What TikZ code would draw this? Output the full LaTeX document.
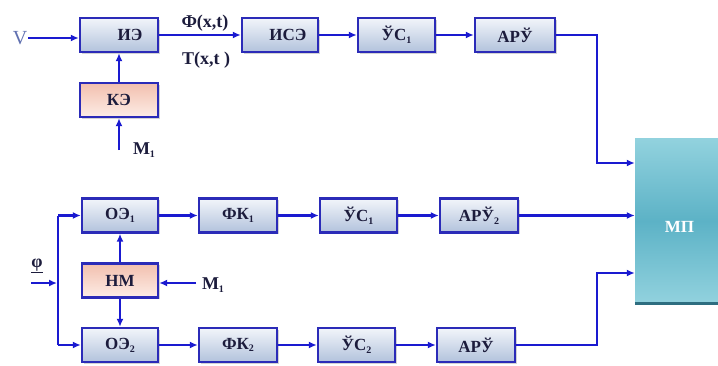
\documentclass[tikz,border=0pt]{standalone}
\usepackage{fontspec}
\setmainfont{Liberation Serif}
\usetikzlibrary{arrows.meta,shadows,positioning}
\definecolor{linecol}{HTML}{1A1AD0}
\definecolor{boxdraw}{HTML}{2B2BB8}
\definecolor{boxtop}{HTML}{F2F5FA}
\definecolor{boxbot}{HTML}{B2C2DC}
\definecolor{pinktop}{HTML}{F2BFAE}
\definecolor{pinkbot}{HTML}{FDEDE6}
\definecolor{mpa}{HTML}{92D2DE}
\definecolor{mpb}{HTML}{5CB2C6}
\definecolor{mpedge}{HTML}{2E6E80}
\definecolor{txt}{HTML}{1C1C3C}
\definecolor{vcol}{HTML}{6070B0}
\newcommand\ssub[1]{\raisebox{-0.35ex}{\fontsize{10}{10}\selectfont #1}}
\tikzset{
  blk/.style={draw=boxdraw, line width=2.4pt, top color=boxtop, bottom color=boxbot,
    minimum height=34pt, inner sep=1pt, font=\fontsize{17}{17}\selectfont\bfseries, text=txt,
    drop shadow={shadow xshift=1.5pt, shadow yshift=-1.5pt, opacity=0.35}},
  pinkblk/.style={blk, top color=pinktop, bottom color=pinkbot},
  arr/.style={draw=linecol, line width=2.4pt, -{Latex[length=8pt,width=7pt]}},
  ln/.style={draw=linecol, line width=2.4pt},
  lbl/.style={font=\fontsize{18}{18}\selectfont\bfseries, text=txt, inner sep=1pt}
}
\begin{document}
\begin{tikzpicture}[x=1pt,y=-1pt]
\useasboundingbox (0,0) rectangle (718,365);
% top row
\node[blk, minimum width=78pt] (ie) at (119,35) {\hspace*{22pt}ИЭ};
\node[blk, minimum width=76pt] (ise) at (280,35) {\hspace*{16pt}ИСЭ};
\node[blk, minimum width=77pt] (us1) at (396.5,35) {ЎС\ssub{1}};
\node[blk, minimum width=80pt] (aru) at (515,35) {АРЎ};
\node[pinkblk, minimum width=78pt] (ke) at (119,100) {КЭ};
% bottom rows
\node[blk, minimum width=76pt] (oe1) at (120,215.5) {ОЭ\ssub{1}};
\node[blk, minimum width=78pt] (fk1) at (238,215.5) {ФК\ssub{1}};
\node[blk, minimum width=77pt] (us1b) at (358.5,215.5) {ЎС\ssub{1}};
\node[blk, minimum width=78pt] (aru2) at (479,215.5) {АРЎ\ssub{2}};
\node[pinkblk, minimum width=76pt] (nm) at (120,280.5) {НМ};
\node[blk, minimum width=76pt] (oe2) at (120,345) {ОЭ\ssub{2}};
\node[blk, minimum width=78pt] (fk2) at (238,345) {ФК\ssub{2}};
\node[blk, minimum width=77pt] (us2) at (356.5,345) {ЎС\ssub{2}};
\node[blk, minimum width=78pt] (aru3) at (476,345) {АРЎ};
% MP block
\node[minimum width=83pt, minimum height=165pt, inner sep=0pt,
  top color=mpa, bottom color=mpa, middle color=mpb,
  label={[yshift=-6pt, xshift=3pt, text=white, font=\fontsize{17}{17}\selectfont\bfseries]center:МП}] (mp) at (676.5,221) {};
\draw[mpedge, line width=2.5pt] (mp.south west) -- (mp.south east);
% labels
\node[font=\fontsize{20}{20}\selectfont, text=vcol, inner sep=1pt] (v) at (20,38) {V};
\node[lbl] (phi) at (205,23) {Ф(x,t)};
\node[lbl] (tx) at (206,60) {T(x,t )};
\node[lbl] (m1a) at (144,150) {М\ssub{1}};
\node[lbl] (m1b) at (213,285) {М\ssub{1}};
\node[lbl, font=\fontsize{18}{18}\selectfont\bfseries] (ph) at (37,266) {\underline{φ}};
\coordinate (m1astart) at (119,150);
\coordinate (m1bstart) at (196,283);
\coordinate (phstart) at (31,283);
\coordinate (phend) at (57,283);
\coordinate (split) at (58,283);
% top connectors
\draw[arr] (v.east) -- (v.east -| ie.west);
\draw[arr] (ie) -- (ise);
\draw[arr] (ise) -- (us1);
\draw[arr] (us1) -- (aru);
\draw[arr] (aru.east) -- (597,35) -- (597,163) -- (597,163 -| mp.west);
\draw[arr] (ke) -- (ie);
\draw[arr] (m1astart) -- (ke.south);
% bottom connectors
\draw[arr] (phstart) -- (phend);
\draw[ln] (split |- oe1) -- (split |- oe2);
\draw[arr] (split |- oe1) -- (oe1.west);
\draw[arr] (split |- oe2) -- (oe2.west);
\draw[arr] (nm) -- (oe1);
\draw[arr] (nm) -- (oe2);
\draw[arr] (m1bstart) -- (m1bstart -| nm.east);
\draw[arr] (oe1) -- (fk1);
\draw[arr] (fk1) -- (us1b);
\draw[arr] (us1b) -- (aru2);
\draw[arr] (aru2.east) -- (aru2.east -| mp.west);
\draw[arr] (oe2) -- (fk2);
\draw[arr] (fk2) -- (us2);
\draw[arr] (us2) -- (aru3);
\draw[arr] (aru3.east) -- (597,345) -- (597,273) -- (597,273 -| mp.west);
\end{tikzpicture}
\end{document}
